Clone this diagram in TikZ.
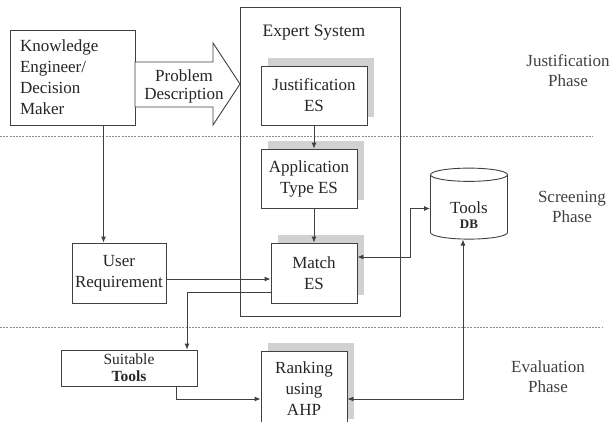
\documentclass[tikz,border=0pt]{standalone}
\usepackage{fontspec}
\setmainfont{Liberation Serif}
\usetikzlibrary{arrows.meta,shapes.geometric,shadows}

\begin{document}
\begin{tikzpicture}[x=1pt,y=-1pt,
    box/.style={draw=black!75, line width=0.9pt, fill=white, align=center, inner sep=2pt,
        text=black!85, font=\fontsize{17}{21}\selectfont},
    esbox/.style={box, drop shadow={shadow xshift=7pt, shadow yshift=8pt, fill=black!18, opacity=1}},
    link/.style={draw=black!75, line width=0.9pt, -{Latex[length=6pt,width=5pt]}},
    both/.style={link, {Latex[length=6pt,width=5pt]}-{Latex[length=6pt,width=5pt]}},
    phase/.style={align=center, text=black!75, font=\fontsize{17}{20}\selectfont},
    sep/.style={draw=black!45, line width=0.8pt, dash pattern=on 2pt off 1.2pt}]
    \useasboundingbox (0,0) rectangle (611,421);

    % phase borders
    \draw[sep] (0,136) -- (593,136);
    \draw[sep] (0,327) -- (602,327);

    \node[phase] (jph) at (568,71) {Justification\\Phase};
    \node[phase] (sph) at (572,207) {Screening\\Phase};
    \node[phase] (eph) at (548,377) {Evaluation\\Phase};

    % expert system frame
    \node[draw=black!75, line width=0.9pt, minimum width=160, minimum height=309] (es) at (320,161.5) {};
    \node[text=black!85, font=\fontsize{17.5}{21}\selectfont] (esl) at (314,33) {Expert System};

    \node[box, align=left, text width=105, minimum width=125, minimum height=95, inner sep=10pt] (ke) at (72.5,77.5)
        {Knowledge\\Engineer/\\Decision\\Maker};

    % problem description arrow
    \draw[draw=black!75, line width=0.9pt, fill=white]
        (135,62) -- (213,62) -- (213,43) -- (240,84) -- (213,125) -- (213,107) -- (135,107) -- cycle;
    \node[text=black!85, align=center, font=\fontsize{17}{18}\selectfont] (prob) at (184,86) {Problem\\Description};

    \node[esbox, minimum width=106, minimum height=59] (jes) at (314,95.5) {Justification\\ES};
    \node[esbox, minimum width=96, minimum height=59] (ates) at (309,178.5) {Application\\Type ES};
    \node[esbox, minimum width=86, minimum height=60] (mes) at (314,273) {Match\\ES};
    \node[box, minimum width=94, minimum height=60, inner sep=1pt] (ureq) at (119,273) {User\\Requirement};
    \node[box, minimum width=136, minimum height=36, font=\fontsize{15.5}{17}\selectfont] (suit) at (129,368)
        {Suitable\\\textbf{Tools}};
    \node[esbox, minimum width=86, minimum height=76] (rank) at (304,389) {Ranking\\using\\AHP};

    \node[cylinder, shape border rotate=90, aspect=0.3, draw=black!75, line width=0.9pt, fill=white,
        minimum width=77, minimum height=71, text=black!85,
        font=\fontsize{17}{16}\selectfont] (tdb) at (469,208.5)
        {\raisebox{-13pt}[0pt][0pt]{\begin{tabular}{@{}c@{}}Tools\\[-1pt]\fontsize{13}{13}\selectfont\textbf{DB}\end{tabular}}};

    % connectors
    \draw[link] (jes.south -| mes.north) -- (ates.north -| mes.north);
    \draw[link] (ates.south -| mes.north) -- (mes.north);
    \draw[link] ([xshift=31pt]ke.south) -- ([xshift=31pt]ke.south |- ureq.north);
    \draw[link] ([yshift=-6pt]ureq.east) -- ([yshift=-6pt]ureq.east -| mes.west);
    \draw[link] ([yshift=-19pt]mes.west) -| ([xshift=58pt]suit.north);
    \draw[link] ([xshift=47pt]suit.south) |- ([yshift=-10pt]rank.west);
    \draw[both] ([yshift=16pt]mes.east) -- ++(53,0) |- (tdb.west);
    \draw[both] ([xshift=-6pt]tdb.south) |- ([yshift=-10pt]rank.east);
\end{tikzpicture}
\end{document}
